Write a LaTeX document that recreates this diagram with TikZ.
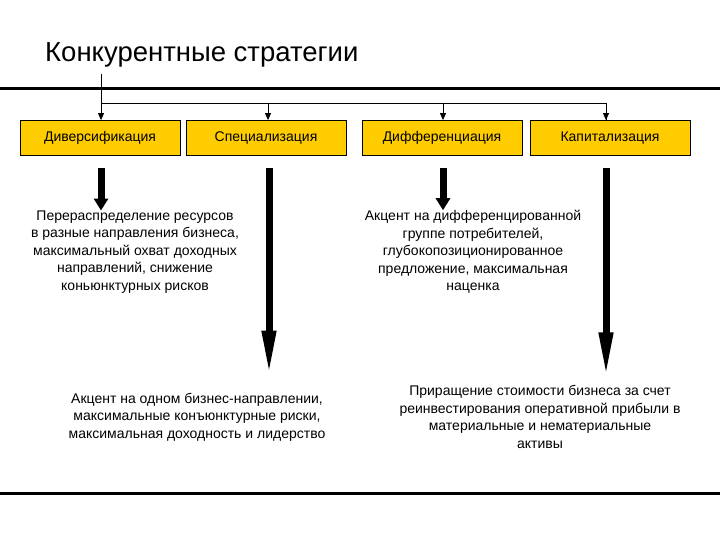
\documentclass[tikz,border=0pt]{standalone}
\usepackage{fontspec}
\setmainfont{Liberation Sans}
\usetikzlibrary{arrows.meta,positioning}
\definecolor{boxgold}{RGB}{255,204,0}

\begin{document}
\begin{tikzpicture}[x=1pt,y=-1pt,
    nodes = {font=\fontsize{14}{17.5}\selectfont},
    stratbox/.style = {draw=black,line width=0.8pt,fill=boxgold,
      minimum width=160pt,minimum height=35pt,inner sep=0pt},
    desc/.style = {align=center,inner sep=0pt},
    rule/.style = {line width=3pt},
    thin/.style = {line width=0.8pt,-{Triangle[width=6pt,length=7pt]}},
    fatshort/.style = {line width=7pt,shorten <=12pt,
      -{Triangle[width=14pt,length=12pt]}},
    fatlong/.style = {line width=7pt,shorten <=12pt,
      -{Triangle[width=13pt,length=46pt]}}]
    \useasboundingbox (0,0) rectangle (720,540);

    % title and rules
    \node[anchor=base west,inner sep=0pt,font=\fontsize{27.5}{32}\selectfont]
      (title) at (45,62) {Конкурентные стратегии};
    \draw[rule] (0,89) -- (720,89);
    \draw[rule] (0,493) -- (720,493);

    % the four strategies
    \foreach \name/\cx/\text in {
          div/100/Диверсификация,
          spec/266/Специализация,
          diff/442/Дифференциация,
          cap/610/Капитализация
        } {
      \node[stratbox] (\name) at (\cx,138) {\text};
    }

    % thin connectors from the title
    \coordinate (top) at (101,74);
    \coordinate (split) at (101,103);
    \draw[line width=0.8pt] (top) -- (split) -| ([xshift=-4pt]cap.north);
    \draw[thin] (top) -- ([xshift=1pt]div.north);
    \draw[thin] ([xshift=2pt]spec.north |- split) -- ([xshift=2pt]spec.north);
    \draw[thin] ([xshift=1pt]diff.north |- split) -- ([xshift=1pt]diff.north);
    \draw[thin] ([xshift=-4pt]cap.north |- split) -- ([xshift=-4pt]cap.north);

    % descriptions
    \node[desc] (tdiv) at (135,252) {Перераспределение ресурсов\\
      в разные направления бизнеса,\\ максимальный охват доходных\\
      направлений, снижение\\ коньюнктурных рисков};
    \node[desc] (tdiff) at (473,252) {Акцент на дифференцированной\\
      группе потребителей,\\ глубокопозиционированное\\
      предложение, максимальная\\ наценка};
    \node[desc] (tspec) at (197,417) {Акцент на одном бизнес-направлении,\\
      максимальные конъюнктурные риски,\\
      максимальная доходность и лидерство};
    \node[desc] (tcap) at (540,417) {Приращение стоимости бизнеса за счет\\
      реинвестирования оперативной прибыли в\\
      материальные и нематериальные\\ активы};

    % fat arrows
    \draw[fatshort] ([xshift=1pt]div.south) -- ([xshift=1pt]div.south |- tdiv.north);
    \draw[fatshort] ([xshift=1pt]diff.south) -- ([xshift=1pt]diff.south |- tdiff.north);
    \draw[fatlong,shorten >=16pt] ([xshift=3pt]spec.south) -- ([xshift=3pt]spec.south |- tspec.north);
    \draw[fatlong,shorten >=7pt] ([xshift=-4pt]cap.south) -- ([xshift=-4pt]cap.south |- tcap.north);
\end{tikzpicture}
\end{document}
